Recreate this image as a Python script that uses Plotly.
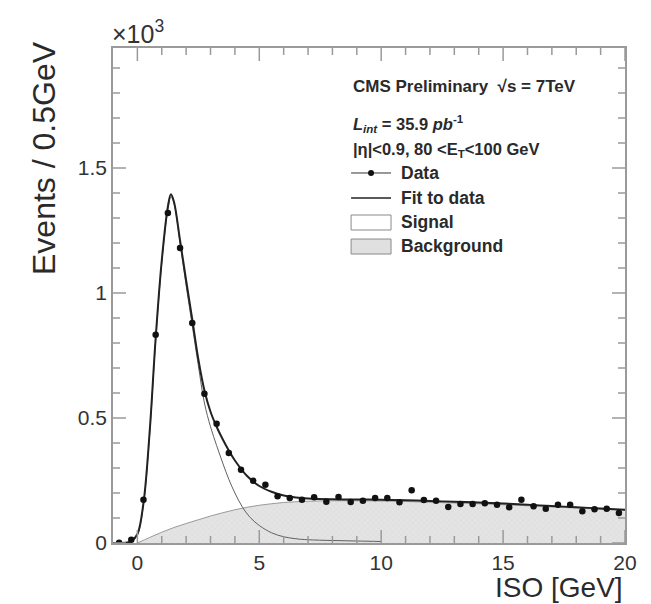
import plotly.graph_objects as go

# ---------------- data (Events in units of 10^3 per 0.5 GeV) ----------------
data_x = [-0.75, -0.25, 0.25, 0.75, 1.25, 1.75, 2.25, 2.75, 3.25, 3.75,
          4.25, 4.75, 5.25, 5.75, 6.25, 6.75, 7.25, 7.75, 8.25, 8.75,
          9.25, 9.75, 10.25, 10.75, 11.25, 11.75, 12.25, 12.75, 13.25, 13.75,
          14.25, 14.75, 15.25, 15.75, 16.25, 16.75, 17.25, 17.75, 18.25, 18.75,
          19.25, 19.75]
data_y = [0.001, 0.013, 0.173, 0.833, 1.32, 1.18, 0.88, 0.597, 0.477, 0.36,
          0.293, 0.249, 0.233, 0.187, 0.18, 0.173, 0.183, 0.165, 0.184, 0.164,
          0.169, 0.18, 0.18, 0.163, 0.211, 0.172, 0.169, 0.144, 0.156, 0.156,
          0.159, 0.153, 0.143, 0.173, 0.147, 0.137, 0.153, 0.153, 0.127, 0.135,
          0.137, 0.12]

# fit to data (total)
fit_x = [-1, -0.5, -0.25, 0, 0.25, 0.5, 0.75, 1.0, 1.25, 1.375, 1.5, 1.75, 2.0,
         2.25, 2.5, 2.75, 3.0, 3.25, 3.5, 3.75, 4.0, 4.5, 5.0, 5.5, 6.0, 6.5, 7,
         8, 9, 10, 11, 12, 13, 14, 15, 16, 17, 18, 19, 20]
fit_y = [0, 0.001, 0.008, 0.035, 0.16, 0.44, 0.82, 1.13, 1.345, 1.395, 1.365,
         1.21, 1.05, 0.895, 0.735, 0.61, 0.525, 0.465, 0.415, 0.37, 0.33, 0.268,
         0.228, 0.205, 0.19, 0.182, 0.178, 0.175, 0.174, 0.173, 0.171, 0.168,
         0.165, 0.162, 0.158, 0.153, 0.148, 0.143, 0.138, 0.133]

# signal component
sig_x = [-1, -0.5, -0.25, 0, 0.25, 0.5, 0.75, 1.0, 1.25, 1.375, 1.5, 1.75, 2.0,
         2.25, 2.5, 2.75, 3.0, 3.25, 3.5, 3.75, 4.0, 4.3, 4.6, 5.0, 5.5, 6.0,
         6.5, 7, 8, 9, 10]
sig_y = [0, 0.001, 0.007, 0.033, 0.155, 0.43, 0.81, 1.12, 1.335, 1.385, 1.36,
         1.2, 1.03, 0.87, 0.71, 0.56, 0.465, 0.39, 0.32, 0.255, 0.2, 0.145,
         0.105, 0.07, 0.041, 0.025, 0.017, 0.013, 0.01, 0.008, 0.006]

# background component
bkg_x = [0, 0.5, 1, 1.5, 2, 2.5, 3, 3.5, 4, 4.5, 5, 5.5, 6, 6.5, 7, 8, 9, 10,
         11, 12, 13, 14, 15, 16, 17, 18, 19, 20]
bkg_y = [0, 0.022, 0.043, 0.062, 0.078, 0.093, 0.108, 0.121, 0.133, 0.143,
         0.151, 0.157, 0.162, 0.165, 0.167, 0.169, 0.169, 0.168, 0.166, 0.163,
         0.16, 0.157, 0.153, 0.149, 0.144, 0.14, 0.135, 0.131]

x_ticks = [0, 5, 10, 15, 20]
x_minor = [1, 2, 3, 4, 6, 7, 8, 9, 11, 12, 13, 14, 16, 17, 18, 19]
y_ticks = [0, 0.5, 1, 1.5]
y_tick_text = ["0", "0.5", "1", "1.5"]
y_minor = [0.1, 0.2, 0.3, 0.4, 0.6, 0.7, 0.8, 0.9, 1.1, 1.2, 1.3, 1.4,
           1.6, 1.7, 1.8, 1.9]

X_RANGE = [-1, 20]
Y_RANGE = [0, 1.98]

FONT = "Liberation Sans, Arial, Helvetica, sans-serif"
TXT = "#2a2a2a"
AX = "#9a9a9a"

W, H = 651, 604
ML, MR, MT, MB = 105, 34, 40, 69
PW, PH = W - ML - MR, H - MT - MB

fig = go.Figure()

fig.add_trace(go.Scatter(
    x=bkg_x, y=bkg_y, mode="lines",
    line=dict(color="#9a9a9a", width=1, shape="spline"),
    fill="tozeroy",
    fillpattern=dict(shape="x", fgcolor="#c8c8c8", bgcolor="#e4e4e4",
                     size=4, solidity=0.15),
    showlegend=False, hoverinfo="skip"))

fig.add_trace(go.Scatter(
    x=sig_x, y=sig_y, mode="lines",
    line=dict(color="#606060", width=1, shape="spline"),
    showlegend=False, hoverinfo="skip"))

fig.add_trace(go.Scatter(
    x=fit_x, y=fit_y, mode="lines",
    line=dict(color="#222222", width=2, shape="spline"),
    showlegend=False, hoverinfo="skip"))

fig.add_trace(go.Scatter(
    x=data_x, y=data_y, mode="markers",
    marker=dict(color="#111111", size=6.5),
    showlegend=False))

# ROOT-style inside ticks on all four sides (lengths converted from pixels
# to axis units through the axis ranges)
x0r, x1r = X_RANGE
y0r, y1r = Y_RANGE
def y_len(px):
    return px / PH * (y1r - y0r)
def x_len(px):
    return px / PW * (x1r - x0r)

tx, ty = [], []
for vals, px in ((x_ticks, 13), (x_minor, 7)):
    L = y_len(px)
    for v in vals:
        tx += [v, v, None, v, v, None]
        ty += [y0r, y0r + L, None, y1r, y1r - L, None]
for vals, px in ((y_ticks, 13), (y_minor, 7)):
    L = x_len(px)
    for v in vals:
        tx += [x0r, x0r + L, None, x1r, x1r - L, None]
        ty += [v, v, None, v, v, None]
fig.add_trace(go.Scatter(
    x=tx, y=ty, mode="lines", line=dict(color=AX, width=1.5),
    showlegend=False, hoverinfo="skip", connectgaps=False))

fig.update_xaxes(
    range=X_RANGE, tickmode="array", tickvals=x_ticks,
    showgrid=False, zeroline=False, showline=True, linecolor=AX,
    linewidth=1.5, mirror=True, ticks="",
    tickfont=dict(family=FONT, size=21, color="#333333"),
)
fig.update_yaxes(
    range=Y_RANGE, tickmode="array", tickvals=y_ticks, ticktext=y_tick_text,
    showgrid=False, zeroline=False, showline=True, linecolor=AX,
    linewidth=1.5, mirror=True, ticks="",
    tickfont=dict(family=FONT, size=21, color="#333333"),
)

annotations = []
def txt(x, y, s, size=17.5, xanchor="left", yanchor="middle", angle=0,
        color=TXT):
    annotations.append(dict(
        x=x, y=y, xref="paper", yref="paper", text=s, showarrow=False,
        xanchor=xanchor, yanchor=yanchor, textangle=angle,
        font=dict(family=FONT, size=size, color=color)))

# axis titles and multiplier
txt(1.0, -0.089, "ISO [GeV]", size=28, xanchor="right")
txt(-0.135, 1.018, "Events / 0.5GeV", size=32, xanchor="center",
    yanchor="top", angle=-90)
txt(-0.006, 0.996, "×10<sup>3</sup>", size=25, yanchor="bottom",
    color="#333333")

# info text block
txt(0.465, 0.923, "<b>CMS Preliminary  √s = 7TeV</b>", size=17)
txt(0.465, 0.847,
    "<b><i>L</i><sub><i>int</i></sub> = 35.9 <i>pb</i><sup>-1</sup></b>",
    size=16.5)
txt(0.465, 0.793, "<b>|η|&lt;0.9, 80 &lt;E<sub>T</sub>&lt;100 GeV</b>",
    size=16.5)

# legend entries
txt(0.5586, 0.7475, "<b>Data</b>")
txt(0.5586, 0.697, "<b>Fit to data</b>")
txt(0.5586, 0.6485, "<b>Signal</b>")
txt(0.5586, 0.600, "<b>Background</b>")

shapes = [
    dict(type="line", xref="paper", yref="paper", x0=0.465, x1=0.543,
         y0=0.7475, y1=0.7475, line=dict(color="#333333", width=1)),
    dict(type="circle", xref="paper", yref="paper", xsizemode="pixel",
         ysizemode="pixel", xanchor=0.504, yanchor=0.7475, x0=-3, x1=3,
         y0=-3, y1=3, fillcolor="#111111", line=dict(color="#111111", width=0)),
    dict(type="line", xref="paper", yref="paper", x0=0.465, x1=0.543,
         y0=0.697, y1=0.697, line=dict(color="#222222", width=1.5)),
    dict(type="rect", xref="paper", yref="paper", x0=0.465, x1=0.543,
         y0=0.6323, y1=0.6626, fillcolor="white",
         line=dict(color="#8a8a8a", width=1)),
    dict(type="rect", xref="paper", yref="paper", x0=0.465, x1=0.543,
         y0=0.5838, y1=0.6141, fillcolor="#e0e0e0",
         line=dict(color="#8a8a8a", width=1)),
]

fig.update_layout(
    width=W, height=H,
    margin=dict(l=ML, r=MR, t=MT, b=MB),
    paper_bgcolor="white", plot_bgcolor="white",
    showlegend=False,
    annotations=annotations, shapes=shapes,
    font=dict(family=FONT, color=TXT),
)

fig.write_html("out.html")
